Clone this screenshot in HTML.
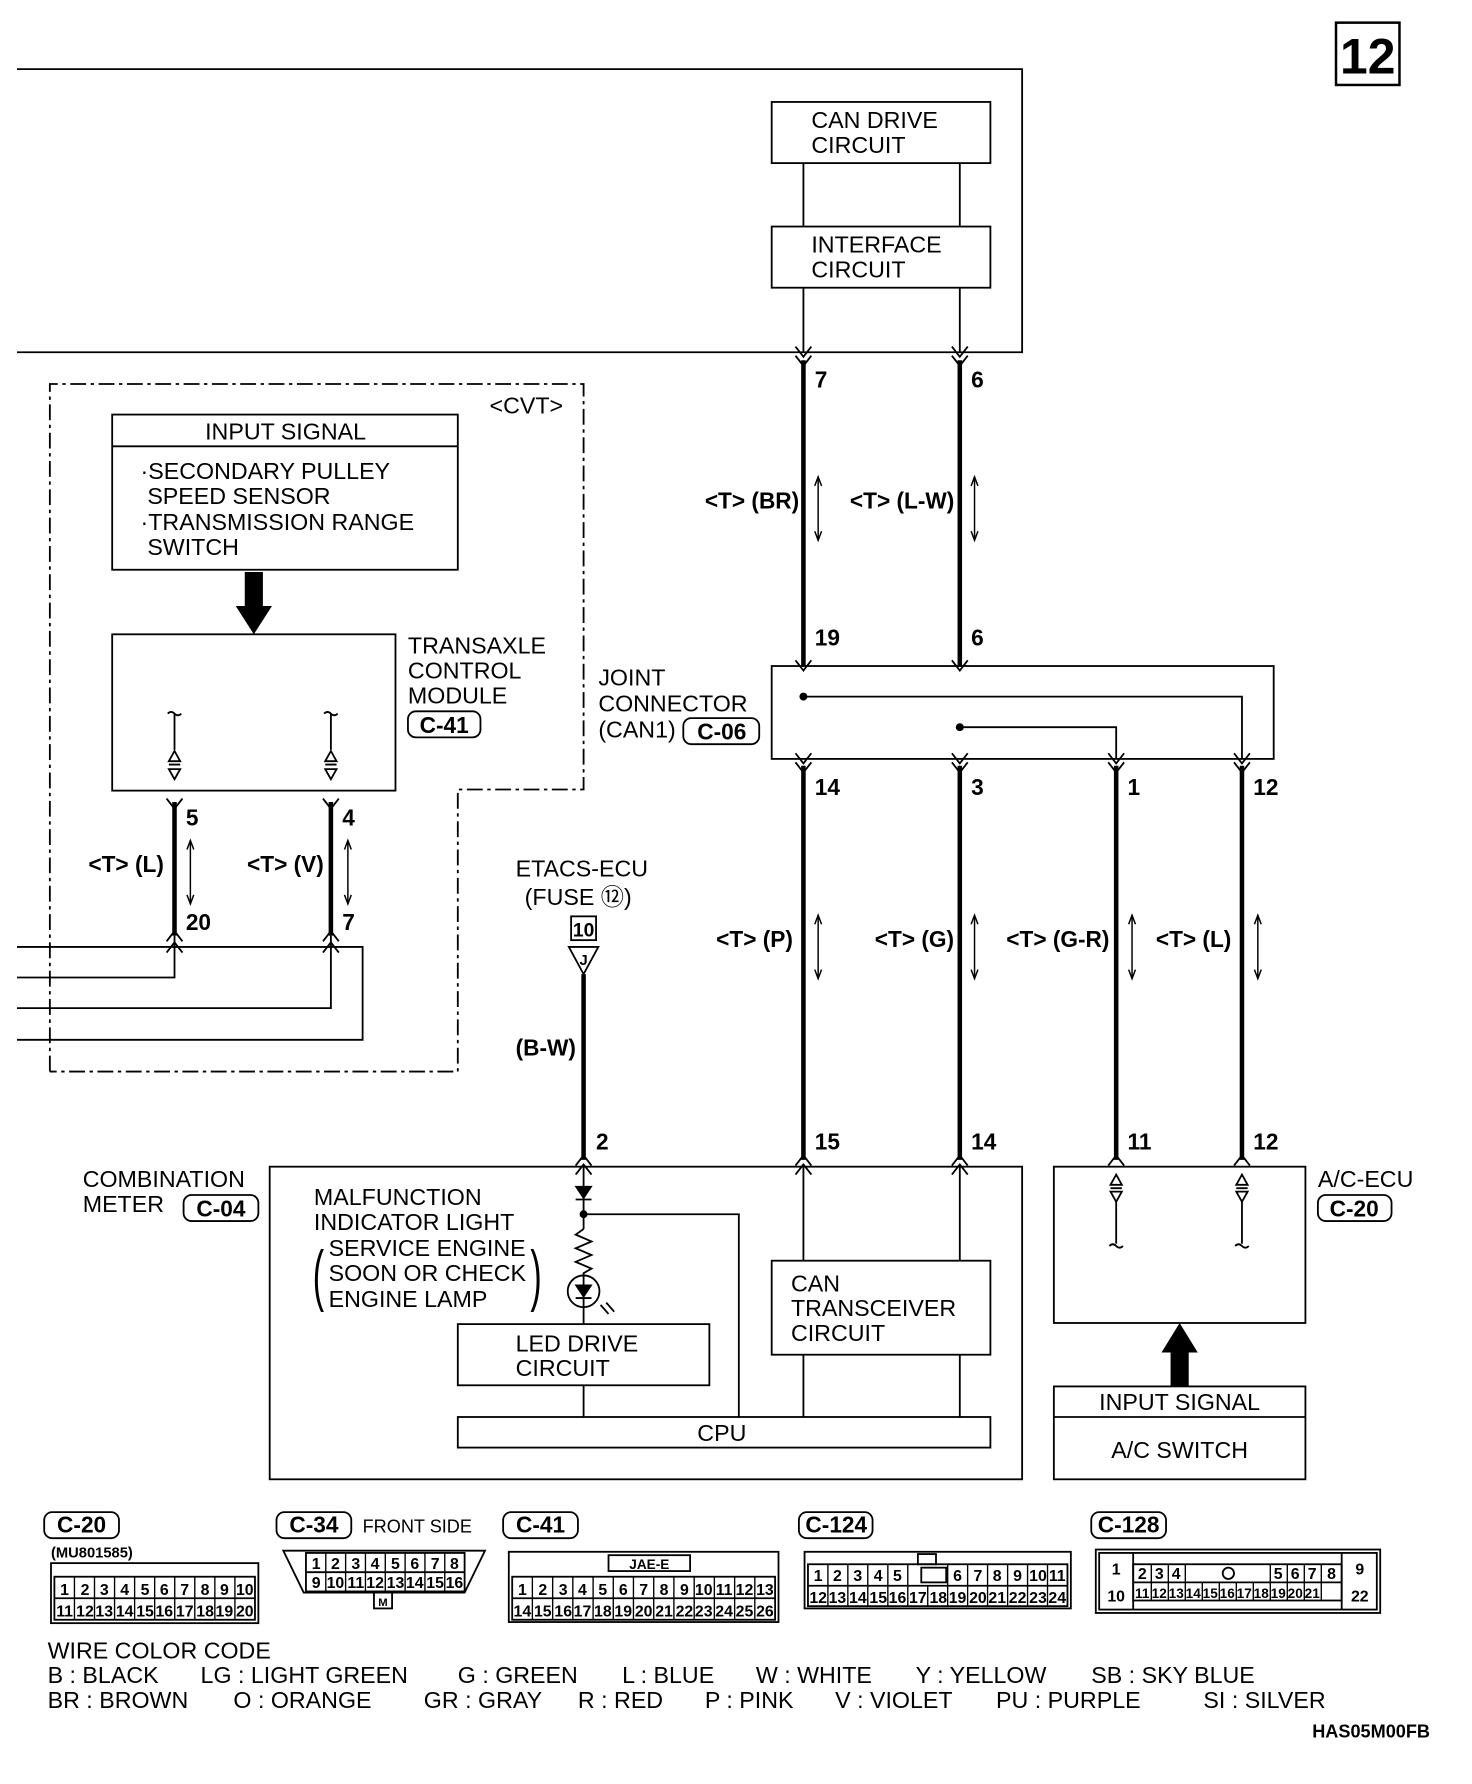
<!DOCTYPE html>
<html><head><meta charset="utf-8"><style>
html,body{margin:0;padding:0;background:#fff}
svg{display:block}
text{font-family:"Liberation Sans",sans-serif;font-size:20.5px;fill:#000}
.b{font-family:"Liberation Sans Narrow","Liberation Sans",sans-serif;font-weight:bold;font-size:20px}
.s{font-family:"Liberation Sans Narrow","Liberation Sans",sans-serif;font-weight:bold;font-size:13px}
.c{font-family:"Liberation Sans Narrow","Liberation Sans",sans-serif;font-weight:bold;font-size:14px;text-anchor:middle}
</style></head><body>
<svg width="1472" height="1784" viewBox="0 0 1299 1575" preserveAspectRatio="none" xmlns="http://www.w3.org/2000/svg">
<defs>
<path id="dn" d="M-7,-9 L0,0 L7,-9" fill="none" stroke="#000" stroke-width="1.6"/>
<path id="up" d="M-7,9 L0,0 L7,9" fill="none" stroke="#000" stroke-width="1.6"/>
<g id="dar"><line x1="0" y1="0" x2="0" y2="56" stroke="#000" stroke-width="1.3"/><path d="M-3,8 L0,0 L3,8 M-3,48 L0,56 L3,48" fill="none" stroke="#000" stroke-width="1.3"/></g>
</defs>
<g fill="none" stroke="#000" stroke-width="1.6">
<rect x="1179" y="20" width="56" height="55" stroke-width="2.2"/>
<polyline points="15,61 902,61 902,311 15,311"/>
<rect x="681" y="90" width="193" height="54"/>
<rect x="681" y="200" width="193" height="54"/>
<line x1="709" y1="144" x2="709" y2="200"/><line x1="847" y1="144" x2="847" y2="200"/>
<line x1="709" y1="254" x2="709" y2="311"/><line x1="847" y1="254" x2="847" y2="311"/>
<polyline points="44,946 44,339 515,339 515,697 404,697 404,946 44,946" stroke-dasharray="14,4,3,4"/>
<rect x="99" y="366" width="305" height="137"/><line x1="99" y1="394" x2="404" y2="394"/>
<rect x="99" y="560" width="250" height="138"/>
<rect x="681" y="588" width="443" height="82"/>
<polyline points="709,615 1096,615 1096,670"/>
<polyline points="847,642 985,642 985,670"/>
<rect x="238" y="1030" width="664" height="276"/>
<rect x="404" y="1169" width="222" height="54"/>
<rect x="404" y="1251" width="470" height="27"/>
<rect x="681" y="1113" width="193" height="83"/>
<line x1="709" y1="1030" x2="709" y2="1113"/><line x1="847" y1="1030" x2="847" y2="1113"/>
<line x1="709" y1="1196" x2="709" y2="1251"/><line x1="847" y1="1196" x2="847" y2="1251"/>
<line x1="515" y1="1223" x2="515" y2="1251"/>
<polyline points="515,1072 652,1072 652,1251"/>
<line x1="515" y1="1030" x2="515" y2="1085"/>
<polyline points="515,1085 508,1090 522,1096 508,1102 522,1108 508,1114 522,1120 515,1124 515,1169"/>
<circle cx="515" cy="1140" r="14"/>
<line x1="530" y1="1152" x2="537" y2="1160"/><line x1="535" y1="1150" x2="542" y2="1158"/>
<line x1="508" y1="1059" x2="522" y2="1059"/><line x1="508" y1="1146" x2="522" y2="1146"/>
<rect x="930" y="1030" width="222" height="138"/>
<rect x="930" y="1224" width="222" height="82"/><line x1="930" y1="1251" x2="1152" y2="1251"/>
<polyline points="15,836 320,836 320,918 15,918"/>
<polyline points="154,826 154,863 15,863"/>
<polyline points="292,826 292,890 15,890"/>
<path d="M148,630 q3,-3 6,0 q3,3 6,0"/><line x1="154" y1="630" x2="154" y2="662"/><path d="M149,672 L154,663 L159,672 Z M149,679 L159,679 L154,688 Z M149,675 L159,675"/>
<path d="M286,630 q3,-3 6,0 q3,3 6,0"/><line x1="292" y1="630" x2="292" y2="662"/><path d="M287,672 L292,663 L297,672 Z M287,679 L297,679 L292,688 Z M287,675 L297,675"/>
<path d="M980,1046 L985,1037 L990,1046 Z M980,1052 L990,1052 L985,1061 Z M980,1049 L990,1049"/><line x1="985" y1="1061" x2="985" y2="1098"/><path d="M979,1100 q3,-3 6,0 q3,3 6,0"/>
<path d="M1091,1046 L1096,1037 L1101,1046 Z M1091,1052 L1101,1052 L1096,1061 Z M1091,1049 L1101,1049"/><line x1="1096" y1="1061" x2="1096" y2="1098"/><path d="M1090,1100 q3,-3 6,0 q3,3 6,0"/>
<rect x="360" y="628" width="64" height="23" rx="7"/>
<rect x="603" y="634" width="67" height="23" rx="7"/>
<rect x="162" y="1055" width="66" height="23" rx="7"/>
<rect x="1163" y="1055" width="65" height="23" rx="7"/>
<rect x="504" y="809" width="22" height="21"/>
<path d="M502,836 L528,836 L515,860 Z"/>
<use href="#dar" x="722" y="421"/><use href="#dar" x="860" y="421"/>
<use href="#dar" x="168" y="742"/><use href="#dar" x="307" y="742"/>
<use href="#dar" x="722" y="808"/><use href="#dar" x="860" y="808"/>
<use href="#dar" x="999" y="808"/><use href="#dar" x="1110" y="808"/>
</g>
<g stroke="#000" stroke-width="4">
<line x1="709" y1="318" x2="709" y2="588"/><line x1="847" y1="318" x2="847" y2="588"/>
<line x1="709" y1="676" x2="709" y2="1024"/><line x1="847" y1="676" x2="847" y2="1024"/>
<line x1="985" y1="676" x2="985" y2="1024"/><line x1="1096" y1="676" x2="1096" y2="1024"/>
<line x1="154" y1="708" x2="154" y2="826"/><line x1="292" y1="708" x2="292" y2="826"/>
<line x1="515" y1="860" x2="515" y2="1024"/>
</g>
<g fill="#000">
<circle cx="709" cy="615" r="3.5"/><circle cx="847" cy="642" r="3.5"/><circle cx="515" cy="1072" r="3.5"/>
<path d="M507,1047 L523,1047 L515,1059 Z"/><path d="M507,1134 L523,1134 L515,1146 Z"/>
<path d="M216,505 L232,505 L232,535 L240,535 L224,560 L208,535 L216,535 Z"/>
<path d="M1033,1224 L1049,1224 L1049,1194 L1057,1194 L1041,1168 L1025,1194 L1033,1194 Z"/>
</g>
<use href="#dn" x="709" y="315"/><use href="#dn" x="709" y="323"/>
<use href="#dn" x="847" y="315"/><use href="#dn" x="847" y="323"/>
<use href="#dn" x="709" y="592"/><use href="#dn" x="847" y="592"/>
<use href="#dn" x="709" y="674"/><use href="#dn" x="847" y="674"/><use href="#dn" x="985" y="674"/><use href="#dn" x="1096" y="674"/>
<use href="#dn" x="709" y="682"/><use href="#dn" x="847" y="682"/><use href="#dn" x="985" y="682"/><use href="#dn" x="1096" y="682"/>
<use href="#dn" x="154" y="714"/><use href="#dn" x="292" y="714"/>
<use href="#up" x="154" y="822"/><use href="#up" x="292" y="822"/><use href="#up" x="154" y="832"/><use href="#up" x="292" y="832"/>
<use href="#up" x="709" y="1020"/><use href="#up" x="847" y="1020"/><use href="#up" x="985" y="1020"/><use href="#up" x="1096" y="1020"/><use href="#up" x="515" y="1020"/>
<use href="#up" x="709" y="1028"/><use href="#up" x="847" y="1028"/><use href="#up" x="515" y="1028"/>
<text class="b" x="1207" y="65" text-anchor="middle" style="font-size:44px">12</text>
<text x="716" y="113">CAN DRIVE</text><text x="716" y="135">CIRCUIT</text>
<text x="716" y="223">INTERFACE</text><text x="716" y="245">CIRCUIT</text>
<text class="b" x="719" y="342">7</text><text class="b" x="857" y="342">6</text>
<text class="b" x="719" y="570">19</text><text class="b" x="857" y="570">6</text>
<text class="b" x="622" y="449">&lt;T&gt; (BR)</text><text class="b" x="750" y="449">&lt;T&gt; (L-W)</text>
<text x="432" y="365">&lt;CVT&gt;</text>
<text x="252" y="388" text-anchor="middle">INPUT SIGNAL</text>
<text x="124" y="423">·SECONDARY PULLEY</text><text x="130" y="445">SPEED SENSOR</text>
<text x="124" y="468">·TRANSMISSION RANGE</text><text x="130" y="490">SWITCH</text>
<text x="360" y="577">TRANSAXLE</text><text x="360" y="599">CONTROL</text><text x="360" y="621">MODULE</text>
<text class="b" x="392" y="647" text-anchor="middle">C-41</text>
<text x="528" y="605">JOINT</text><text x="528" y="628">CONNECTOR</text><text x="528" y="651">(CAN1)</text>
<text class="b" x="637" y="653" text-anchor="middle">C-06</text>
<text class="b" x="719" y="702">14</text><text class="b" x="857" y="702">3</text><text class="b" x="995" y="702">1</text><text class="b" x="1106" y="702">12</text>
<text class="b" x="632" y="836">&lt;T&gt; (P)</text><text class="b" x="772" y="836">&lt;T&gt; (G)</text>
<text class="b" x="888" y="836">&lt;T&gt; (G-R)</text><text class="b" x="1020" y="836">&lt;T&gt; (L)</text>
<text class="b" x="719" y="1015">15</text><text class="b" x="857" y="1015">14</text><text class="b" x="995" y="1015">11</text><text class="b" x="1106" y="1015">12</text>
<text class="b" x="164" y="729">5</text><text class="b" x="302" y="729">4</text>
<text class="b" x="164" y="821">20</text><text class="b" x="302" y="821">7</text>
<text class="b" x="78" y="770">&lt;T&gt; (L)</text><text class="b" x="218" y="770">&lt;T&gt; (V)</text>
<text x="455" y="774">ETACS-ECU</text><text x="463" y="799">(FUSE ⑫)</text>
<text class="b" x="515" y="827" text-anchor="middle" style="font-size:17px">10</text>
<text class="b" x="515" y="852" text-anchor="middle" style="font-size:13px">J</text>
<text class="b" x="455" y="932">(B-W)</text><text class="b" x="526" y="1015">2</text>
<text x="73" y="1048">COMBINATION</text><text x="73" y="1070">METER</text>
<text class="b" x="195" y="1074" text-anchor="middle">C-04</text>
<text x="277" y="1064">MALFUNCTION</text><text x="277" y="1086">INDICATOR LIGHT</text>
<text x="290" y="1109">SERVICE ENGINE</text><text x="290" y="1131">SOON OR CHECK</text><text x="290" y="1154">ENGINE LAMP</text>
<text x="276" y="1146" style="font-size:60px" transform="scale(0.5,1) translate(276,0)">(</text>
<text x="468" y="1146" style="font-size:60px" transform="scale(0.5,1) translate(468,0)">)</text>
<text x="455" y="1193">LED DRIVE</text><text x="455" y="1215">CIRCUIT</text>
<text x="698" y="1140">CAN</text><text x="698" y="1162">TRANSCEIVER</text><text x="698" y="1184">CIRCUIT</text>
<text x="637" y="1272" text-anchor="middle">CPU</text>
<text x="1163" y="1048">A/C-ECU</text><text class="b" x="1195" y="1074" text-anchor="middle">C-20</text>
<text x="1041" y="1245" text-anchor="middle">INPUT SIGNAL</text><text x="1041" y="1287" text-anchor="middle">A/C SWITCH</text>
<g fill="none" stroke="#000" stroke-width="1.6">
<rect x="39" y="1335" width="66" height="23" rx="7"/><rect x="244" y="1335" width="66" height="23" rx="7"/>
<rect x="444" y="1335" width="66" height="23" rx="7"/><rect x="705" y="1335" width="65" height="23" rx="7"/><rect x="963" y="1335" width="66" height="23" rx="7"/>
<rect x="45" y="1380" width="183" height="53"/><rect x="48" y="1392" width="177" height="38"/><line x1="48" y1="1411" x2="225" y2="1411"/>
<path d="M250,1369 L428,1369 L410,1406 L268,1406 Z"/><rect x="270" y="1371" width="140" height="34"/><line x1="270" y1="1388" x2="410" y2="1388"/><rect x="330" y="1406" width="16" height="14"/>
<rect x="449" y="1370" width="238" height="62"/><rect x="537" y="1373" width="72" height="14"/><rect x="452" y="1392" width="232" height="38"/><line x1="452" y1="1411" x2="684" y2="1411"/>
<rect x="710" y="1370" width="235" height="50"/><rect x="713" y="1381" width="229" height="37"/><line x1="713" y1="1400" x2="942" y2="1400"/><rect x="810" y="1372" width="16" height="9"/><rect x="813" y="1384" width="22" height="13"/>
<rect x="967" y="1368" width="251" height="56"/><rect x="970" y="1371" width="245" height="50"/><line x1="1000" y1="1371" x2="1000" y2="1421"/><line x1="1184" y1="1371" x2="1184" y2="1421"/><rect x="1000" y="1381" width="184" height="32"/><line x1="1000" y1="1397" x2="1184" y2="1397"/>
<g stroke-width="1.2">
<path d="M65.7,1392V1430M83.4,1392V1430M101.1,1392V1430M118.8,1392V1430M136.5,1392V1430M154.2,1392V1430M171.9,1392V1430M189.6,1392V1430M207.3,1392V1430"/>
<path d="M287.5,1371V1405M305,1371V1405M322.5,1371V1405M340,1371V1405M357.5,1371V1405M375,1371V1405M392.5,1371V1405"/>
<path d="M469.8,1392V1430M487.7,1392V1430M505.5,1392V1430M523.4,1392V1430M541.2,1392V1430M559,1392V1430M576.9,1392V1430M594.7,1392V1430M612.6,1392V1430M630.4,1392V1430M648.3,1392V1430M666.1,1392V1430"/>
<path d="M730.6,1381V1418M748.2,1381V1418M765.8,1381V1418M783.5,1381V1418M801.1,1381V1418M818.7,1400V1418M836.3,1381V1418M853.9,1381V1418M871.5,1381V1418M889.2,1381V1418M906.8,1381V1418M924.4,1381V1418"/>
<path d="M1016,1381V1413M1031,1381V1413M1046,1381V1413M1061,1397V1413M1076,1397V1413M1091,1397V1413M1106,1397V1413M1121,1381V1413M1136,1381V1413M1151,1381V1413M1166,1381V1413"/>
</g>
<circle cx="1084" cy="1389" r="5"/>
</g>
<text class="b" x="72" y="1353" text-anchor="middle">C-20</text><text class="b" x="277" y="1353" text-anchor="middle">C-34</text>
<text x="320" y="1353" style="font-size:16px">FRONT SIDE</text>
<text class="b" x="477" y="1353" text-anchor="middle">C-41</text><text class="b" x="738" y="1353" text-anchor="middle">C-124</text><text class="b" x="996" y="1353" text-anchor="middle">C-128</text>
<text class="s" x="45" y="1375">(MU801585)</text>
<text class="c" x="57" y="1408">1</text><text class="c" x="75" y="1408">2</text><text class="c" x="92" y="1408">3</text><text class="c" x="110" y="1408">4</text><text class="c" x="128" y="1408">5</text><text class="c" x="145" y="1408">6</text><text class="c" x="163" y="1408">7</text><text class="c" x="181" y="1408">8</text><text class="c" x="198" y="1408">9</text><text class="c" x="216" y="1408">10</text>
<text class="c" x="57" y="1427">11</text><text class="c" x="75" y="1427">12</text><text class="c" x="92" y="1427">13</text><text class="c" x="110" y="1427">14</text><text class="c" x="128" y="1427">15</text><text class="c" x="145" y="1427">16</text><text class="c" x="163" y="1427">17</text><text class="c" x="181" y="1427">18</text><text class="c" x="198" y="1427">19</text><text class="c" x="216" y="1427">20</text>
<text class="c" x="279" y="1385">1</text><text class="c" x="296" y="1385">2</text><text class="c" x="314" y="1385">3</text><text class="c" x="331" y="1385">4</text><text class="c" x="349" y="1385">5</text><text class="c" x="366" y="1385">6</text><text class="c" x="384" y="1385">7</text><text class="c" x="401" y="1385">8</text>
<text class="c" x="279" y="1402">9</text><text class="c" x="296" y="1402">10</text><text class="c" x="314" y="1402">11</text><text class="c" x="331" y="1402">12</text><text class="c" x="349" y="1402">13</text><text class="c" x="366" y="1402">14</text><text class="c" x="384" y="1402">15</text><text class="c" x="401" y="1402">16</text>
<text class="c" x="338" y="1418" style="font-size:10px">M</text>
<text class="c" x="573" y="1385" style="font-size:12px">JAE-E</text>
<text class="c" x="461" y="1408">1</text><text class="c" x="479" y="1408">2</text><text class="c" x="497" y="1408">3</text><text class="c" x="514" y="1408">4</text><text class="c" x="532" y="1408">5</text><text class="c" x="550" y="1408">6</text><text class="c" x="568" y="1408">7</text><text class="c" x="586" y="1408">8</text><text class="c" x="604" y="1408">9</text><text class="c" x="621" y="1408">10</text><text class="c" x="639" y="1408">11</text><text class="c" x="657" y="1408">12</text><text class="c" x="675" y="1408">13</text>
<text class="c" x="461" y="1427">14</text><text class="c" x="479" y="1427">15</text><text class="c" x="497" y="1427">16</text><text class="c" x="514" y="1427">17</text><text class="c" x="532" y="1427">18</text><text class="c" x="550" y="1427">19</text><text class="c" x="568" y="1427">20</text><text class="c" x="586" y="1427">21</text><text class="c" x="604" y="1427">22</text><text class="c" x="621" y="1427">23</text><text class="c" x="639" y="1427">24</text><text class="c" x="657" y="1427">25</text><text class="c" x="675" y="1427">26</text>
<text class="c" x="722" y="1396">1</text><text class="c" x="739" y="1396">2</text><text class="c" x="757" y="1396">3</text><text class="c" x="775" y="1396">4</text><text class="c" x="792" y="1396">5</text><text class="c" x="845" y="1396">6</text><text class="c" x="863" y="1396">7</text><text class="c" x="880" y="1396">8</text><text class="c" x="898" y="1396">9</text><text class="c" x="916" y="1396">10</text><text class="c" x="933" y="1396">11</text>
<text class="c" x="722" y="1415">12</text><text class="c" x="739" y="1415">13</text><text class="c" x="757" y="1415">14</text><text class="c" x="775" y="1415">15</text><text class="c" x="792" y="1415">16</text><text class="c" x="810" y="1415">17</text><text class="c" x="828" y="1415">18</text><text class="c" x="845" y="1415">19</text><text class="c" x="863" y="1415">20</text><text class="c" x="880" y="1415">21</text><text class="c" x="898" y="1415">22</text><text class="c" x="916" y="1415">23</text><text class="c" x="933" y="1415">24</text>
<text class="c" x="985" y="1390">1</text><text class="c" x="1008" y="1394">2</text><text class="c" x="1023" y="1394">3</text><text class="c" x="1038" y="1394">4</text><text class="c" x="1128" y="1394">5</text><text class="c" x="1143" y="1394">6</text><text class="c" x="1158" y="1394">7</text><text class="c" x="1175" y="1394">8</text><text class="c" x="1200" y="1390">9</text>
<text class="c" x="985" y="1414">10</text><text class="c" x="1008" y="1411" style="font-size:12px">11</text><text class="c" x="1023" y="1411" style="font-size:12px">12</text><text class="c" x="1038" y="1411" style="font-size:12px">13</text><text class="c" x="1053" y="1411" style="font-size:12px">14</text><text class="c" x="1068" y="1411" style="font-size:12px">15</text><text class="c" x="1083" y="1411" style="font-size:12px">16</text><text class="c" x="1098" y="1411" style="font-size:12px">17</text><text class="c" x="1113" y="1411" style="font-size:12px">18</text><text class="c" x="1128" y="1411" style="font-size:12px">19</text><text class="c" x="1143" y="1411" style="font-size:12px">20</text><text class="c" x="1158" y="1411" style="font-size:12px">21</text><text class="c" x="1200" y="1414">22</text>
<text x="42" y="1464">WIRE COLOR CODE</text>
<text x="42" y="1486">B : BLACK</text><text x="177" y="1486">LG : LIGHT GREEN</text><text x="404" y="1486">G : GREEN</text><text x="549" y="1486">L : BLUE</text><text x="667" y="1486">W : WHITE</text><text x="808" y="1486">Y : YELLOW</text><text x="963" y="1486">SB : SKY BLUE</text>
<text x="42" y="1508">BR : BROWN</text><text x="206" y="1508">O : ORANGE</text><text x="374" y="1508">GR : GRAY</text><text x="510" y="1508">R : RED</text><text x="622" y="1508">P : PINK</text><text x="737" y="1508">V : VIOLET</text><text x="879" y="1508">PU : PURPLE</text><text x="1062" y="1508">SI : SILVER</text>
<text class="b" x="1158" y="1534" style="font-size:16px">HAS05M00FB</text>
</svg>
</body></html>
